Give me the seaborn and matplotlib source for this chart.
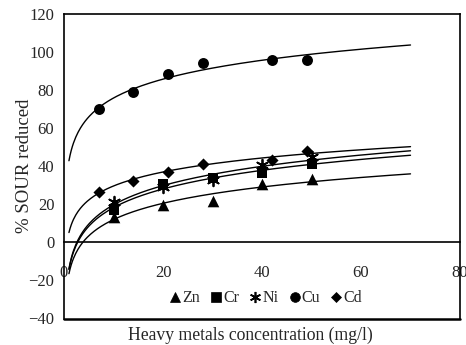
import numpy as np
import pandas as pd
import matplotlib
matplotlib.use("Agg")
import matplotlib.pyplot as plt
import seaborn as sns
from matplotlib.lines import Line2D

# ---- data ----
metals = ["Zn", "Cr", "Ni", "Cu", "Cd"]
x_zn = [10, 20, 30, 40, 50]
y_zn = [13.5, 19.5, 22.0, 30.5, 33.5]
x_cr = [10, 20, 30, 40, 50]
y_cr = [17.0, 30.5, 34.0, 36.5, 41.0]
x_ni = [10, 20, 30, 40, 50]
y_ni = [21.0, 29.0, 33.0, 40.5, 45.0]
x_cu = [7, 14, 21, 28, 42, 49]
y_cu = [70.0, 79.0, 88.5, 94.0, 96.0, 96.0]
x_cd = [7, 14, 21, 28, 42, 49]
y_cd = [26.5, 32.5, 37.0, 41.0, 43.5, 48.0]

x_ticks = [0, 20, 40, 60, 80]
y_ticks = [-40, -20, 0, 20, 40, 60, 80, 100, 120]

series = {"Zn": (x_zn, y_zn), "Cr": (x_cr, y_cr), "Ni": (x_ni, y_ni),
          "Cu": (x_cu, y_cu), "Cd": (x_cd, y_cd)}

sns.set_style("white")
plt.rcParams["font.family"] = ["Liberation Serif", "DejaVu Serif"]
plt.rcParams["font.size"] = 12

fig = plt.figure(figsize=(4.66, 3.45), dpi=100)
ax = fig.add_axes([64/466, 1-318.5/345, 396/466, 304.5/345])

asterisk = (6, 2, 0)
markers = {"Zn": "^", "Cr": "s", "Ni": asterisk, "Cu": "o", "Cd": "D"}
msizes = {"Zn": 70, "Cr": 55, "Ni": 70, "Cu": 62, "Cd": 38}
lsizes = {"Zn": 7.0, "Cr": 7.0, "Ni": 8.0, "Cu": 7.0, "Cd": 5.6}

# logarithmic trendlines fitted to each series (Excel-style log trend)
trend_x = np.linspace(1, 70, 300)
rows = []
for m in metals:
    xs, ys = series[m]
    a, b = np.polyfit(np.log(xs), ys, 1)
    for xv in trend_x:
        rows.append({"metal": m, "x": xv, "y": a*np.log(xv) + b})
trend = pd.DataFrame(rows)
sns.lineplot(data=trend, x="x", y="y", hue="metal", palette=["black"]*5,
             linewidth=1.0, legend=False, ax=ax)

handles = []
for m in metals:
    xs, ys = series[m]
    df = pd.DataFrame({"x": xs, "y": ys})
    lw = 1.3 if m == "Ni" else 0
    sns.scatterplot(data=df, x="x", y="y", marker=markers[m], s=msizes[m],
                    color="black", edgecolor="black", linewidth=lw, ax=ax, zorder=3)
    handles.append(Line2D([], [], linestyle="none", marker=markers[m], color="black",
                          markersize=lsizes[m],
                          markeredgewidth=1.2 if m == "Ni" else 0.5, label=m))

ax.set_xlim(0, 80)
ax.set_ylim(-40, 120)
ax.set_xticks(x_ticks)
ax.set_yticks(y_ticks)

for s in ["top", "right", "left", "bottom"]:
    ax.spines[s].set_visible(True)
    ax.spines[s].set_color("black")
    ax.spines[s].set_linewidth(1.2)
ax.spines["bottom"].set_position(("data", 0))
ax.axhline(-40, color="black", linewidth=1.8, clip_on=False)

ax.tick_params(axis="y", direction="inout", length=8, width=1.2, pad=3, labelsize=12)
ax.tick_params(axis="x", direction="inout", length=9, width=1.2, pad=12, labelsize=12)

ax.set_xlabel("Heavy metals concentration (mg/l)", fontsize=12.7)
ax.set_ylabel("% SOUR reduced", fontsize=13.5)
ax.xaxis.set_label_coords(0.47, -0.028)
ax.yaxis.set_label_coords(-0.078, 0.50)

ax.legend(handles=handles, loc="center", bbox_to_anchor=(0.511, 0.067), ncol=5,
          frameon=False, handletextpad=0.15, columnspacing=0.7, handlelength=0.6,
          fontsize=11.5, borderpad=0, borderaxespad=0)

fig.savefig("out.png", dpi=100)
